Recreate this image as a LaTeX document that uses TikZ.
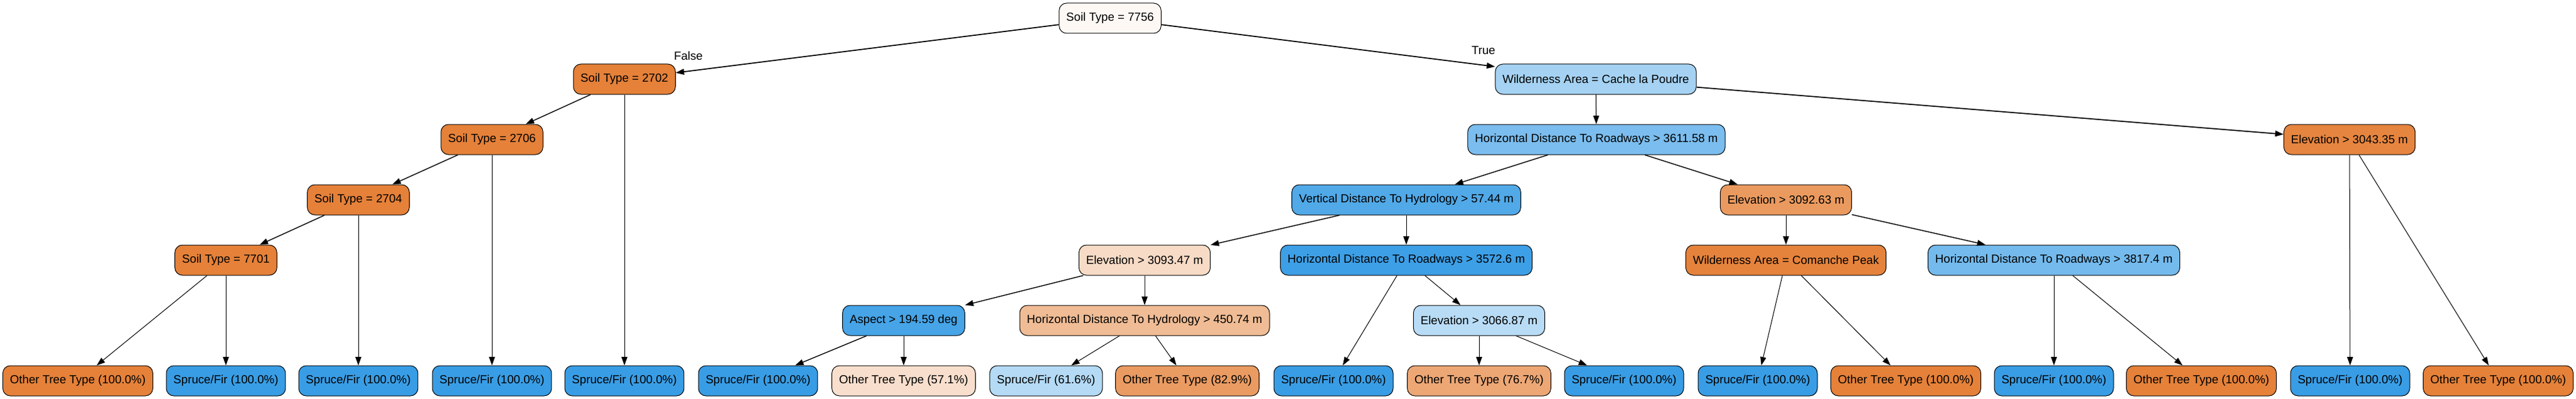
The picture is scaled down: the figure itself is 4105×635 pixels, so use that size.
\documentclass[tikz,border=0pt]{standalone}
\usepackage{fontspec}
\setmainfont{Liberation Sans}
\usepackage{xcolor}
\usetikzlibrary{arrows.meta}

\definecolor{spruce}{HTML}{399DE5}
\definecolor{other}{HTML}{E58139}
\definecolor{rootc}{HTML}{FDF8F4}
\definecolor{cache}{HTML}{A5D2F3}
\definecolor{road3611}{HTML}{7BBDEE}
\definecolor{vert57}{HTML}{51A9E8}
\definecolor{road3572}{HTML}{3D9FE6}
\definecolor{aspc}{HTML}{46A4E7}
\definecolor{elev3093}{HTML}{F7DBC6}
\definecolor{hydro450}{HTML}{F0BC95}
\definecolor{elev3066}{HTML}{B9DCF6}
\definecolor{elev3092}{HTML}{EB9A5F}
\definecolor{comanche}{HTML}{E5833C}
\definecolor{road3817}{HTML}{74BAED}
\definecolor{elev3043}{HTML}{E6853F}
\definecolor{other57}{HTML}{F8DFCD}
\definecolor{spruce61}{HTML}{B4DAF5}
\definecolor{other82}{HTML}{EA9B62}
\definecolor{other76}{HTML}{EDA775}

\begin{document}
\begin{tikzpicture}[x=0.75pt, y=-0.75pt,
  box/.style={draw=black, line width=0.75pt, rounded corners=9pt, minimum height=36pt,
    inner xsep=8.6pt, font=\fontsize{14}{16}\selectfont},
  edge/.style={-{Triangle[length=10pt,width=7pt]}, line width=0.75pt},
  midedge/.style={edge, line width=1.05pt},
  heavyedge/.style={edge, line width=1.3pt},
  branch/.style={font=\fontsize{14}{16}\selectfont}]
  % Fix the page size
  \useasboundingbox (0,0) rectangle (4105,635);

  % Split nodes, level by level
  \node[box, fill=rootc] (root) at (1769,29) {Soil Type = 7756};
  \node[box, fill=other] (st2702) at (995,126) {Soil Type = 2702};
  \node[box, fill=cache] (wcache) at (2543,126) {Wilderness Area = Cache la Poudre};
  \node[box, fill=other] (st2706) at (784,222) {Soil Type = 2706};
  \node[box, fill=road3611] (hr3611) at (2544,222) {Horizontal Distance To Roadways > 3611.58 m};
  \node[box, fill=elev3043] (el3043) at (3744,222) {Elevation > 3043.35 m};
  \node[box, fill=other] (st2704) at (571,318) {Soil Type = 2704};
  \node[box, fill=vert57] (vd57) at (2241,318) {Vertical Distance To Hydrology > 57.44 m};
  \node[box, fill=elev3092] (el3092) at (2846,318) {Elevation > 3092.63 m};
  \node[box, fill=other] (st7701) at (360,414) {Soil Type = 7701};
  \node[box, fill=elev3093] (el3093) at (1824,414) {Elevation > 3093.47 m};
  \node[box, fill=road3572] (hr3572) at (2241,414) {Horizontal Distance To Roadways > 3572.6 m};
  \node[box, fill=comanche] (wcomanche) at (2846,414) {Wilderness Area = Comanche Peak};
  \node[box, fill=road3817] (hr3817) at (3273,414) {Horizontal Distance To Roadways > 3817.4 m};
  \node[box, fill=aspc] (asp) at (1440,510) {Aspect > 194.59 deg};
  \node[box, fill=hydro450] (hh450) at (1824,510) {Horizontal Distance To Hydrology > 450.74 m};
  \node[box, fill=elev3066] (el3066) at (2357,510) {Elevation > 3066.87 m};

  % Leaves along the bottom row
  \node[box, fill=other] (lf1) at (124,606) {Other Tree Type (100.0\%)};
  \node[box, fill=spruce] (lf2) at (360,606) {Spruce/Fir (100.0\%)};
  \node[box, fill=spruce] (lf3) at (571,606) {Spruce/Fir (100.0\%)};
  \node[box, fill=spruce] (lf4) at (784,606) {Spruce/Fir (100.0\%)};
  \node[box, fill=spruce] (lf5) at (995,606) {Spruce/Fir (100.0\%)};
  \node[box, fill=spruce] (lf6) at (1208,606) {Spruce/Fir (100.0\%)};
  \node[box, fill=other57] (lf7) at (1440,606) {Other Tree Type (57.1\%)};
  \node[box, fill=spruce61] (lf8) at (1667,606) {Spruce/Fir (61.6\%)};
  \node[box, fill=other82] (lf9) at (1892,606) {Other Tree Type (82.9\%)};
  \node[box, fill=spruce] (lf10) at (2125,606) {Spruce/Fir (100.0\%)};
  \node[box, fill=other76] (lf11) at (2357,606) {Other Tree Type (76.7\%)};
  \node[box, fill=spruce] (lf12) at (2588,606) {Spruce/Fir (100.0\%)};
  \node[box, fill=spruce] (lf13) at (2801,606) {Spruce/Fir (100.0\%)};
  \node[box, fill=other] (lf14) at (3037,606) {Other Tree Type (100.0\%)};
  \node[box, fill=spruce] (lf15) at (3273,606) {Spruce/Fir (100.0\%)};
  \node[box, fill=other] (lf16) at (3508,606) {Other Tree Type (100.0\%)};
  \node[box, fill=spruce] (lf17) at (3745,606) {Spruce/Fir (100.0\%)};
  \node[box, fill=other] (lf18) at (3981,606) {Other Tree Type (100.0\%)};

  % Branches out of the root
  \draw[heavyedge] (root) -- (st2702);
  \draw[heavyedge] (root) -- (wcache);
  \node[branch] (lfalse) at (1097,89) {False};
  \node[branch] (ltrue) at (2364,80) {True};

  % Heavier branches
  \draw[heavyedge] (wcache) -- (el3043);
  \foreach \a/\b in {st2702/st2706, st2706/st2704, st2704/st7701, hr3611/vd57,
      hr3611/el3092, vd57/el3093, el3093/asp, asp/lf6, el3092/hr3817}
    \draw[midedge] (\a) -- (\b);

  % Thin branches
  \foreach \a/\b in {st2702/lf5, st2706/lf4, st2704/lf3, st7701/lf1, st7701/lf2,
      wcache/hr3611, vd57/hr3572, el3093/hh450, asp/lf7, hh450/lf8, hh450/lf9,
      hr3572/lf10, hr3572/el3066, el3066/lf11, el3066/lf12, el3092/wcomanche,
      wcomanche/lf13, wcomanche/lf14, hr3817/lf15, hr3817/lf16, el3043/lf17, el3043/lf18}
    \draw[edge] (\a) -- (\b);
\end{tikzpicture}
\end{document}
